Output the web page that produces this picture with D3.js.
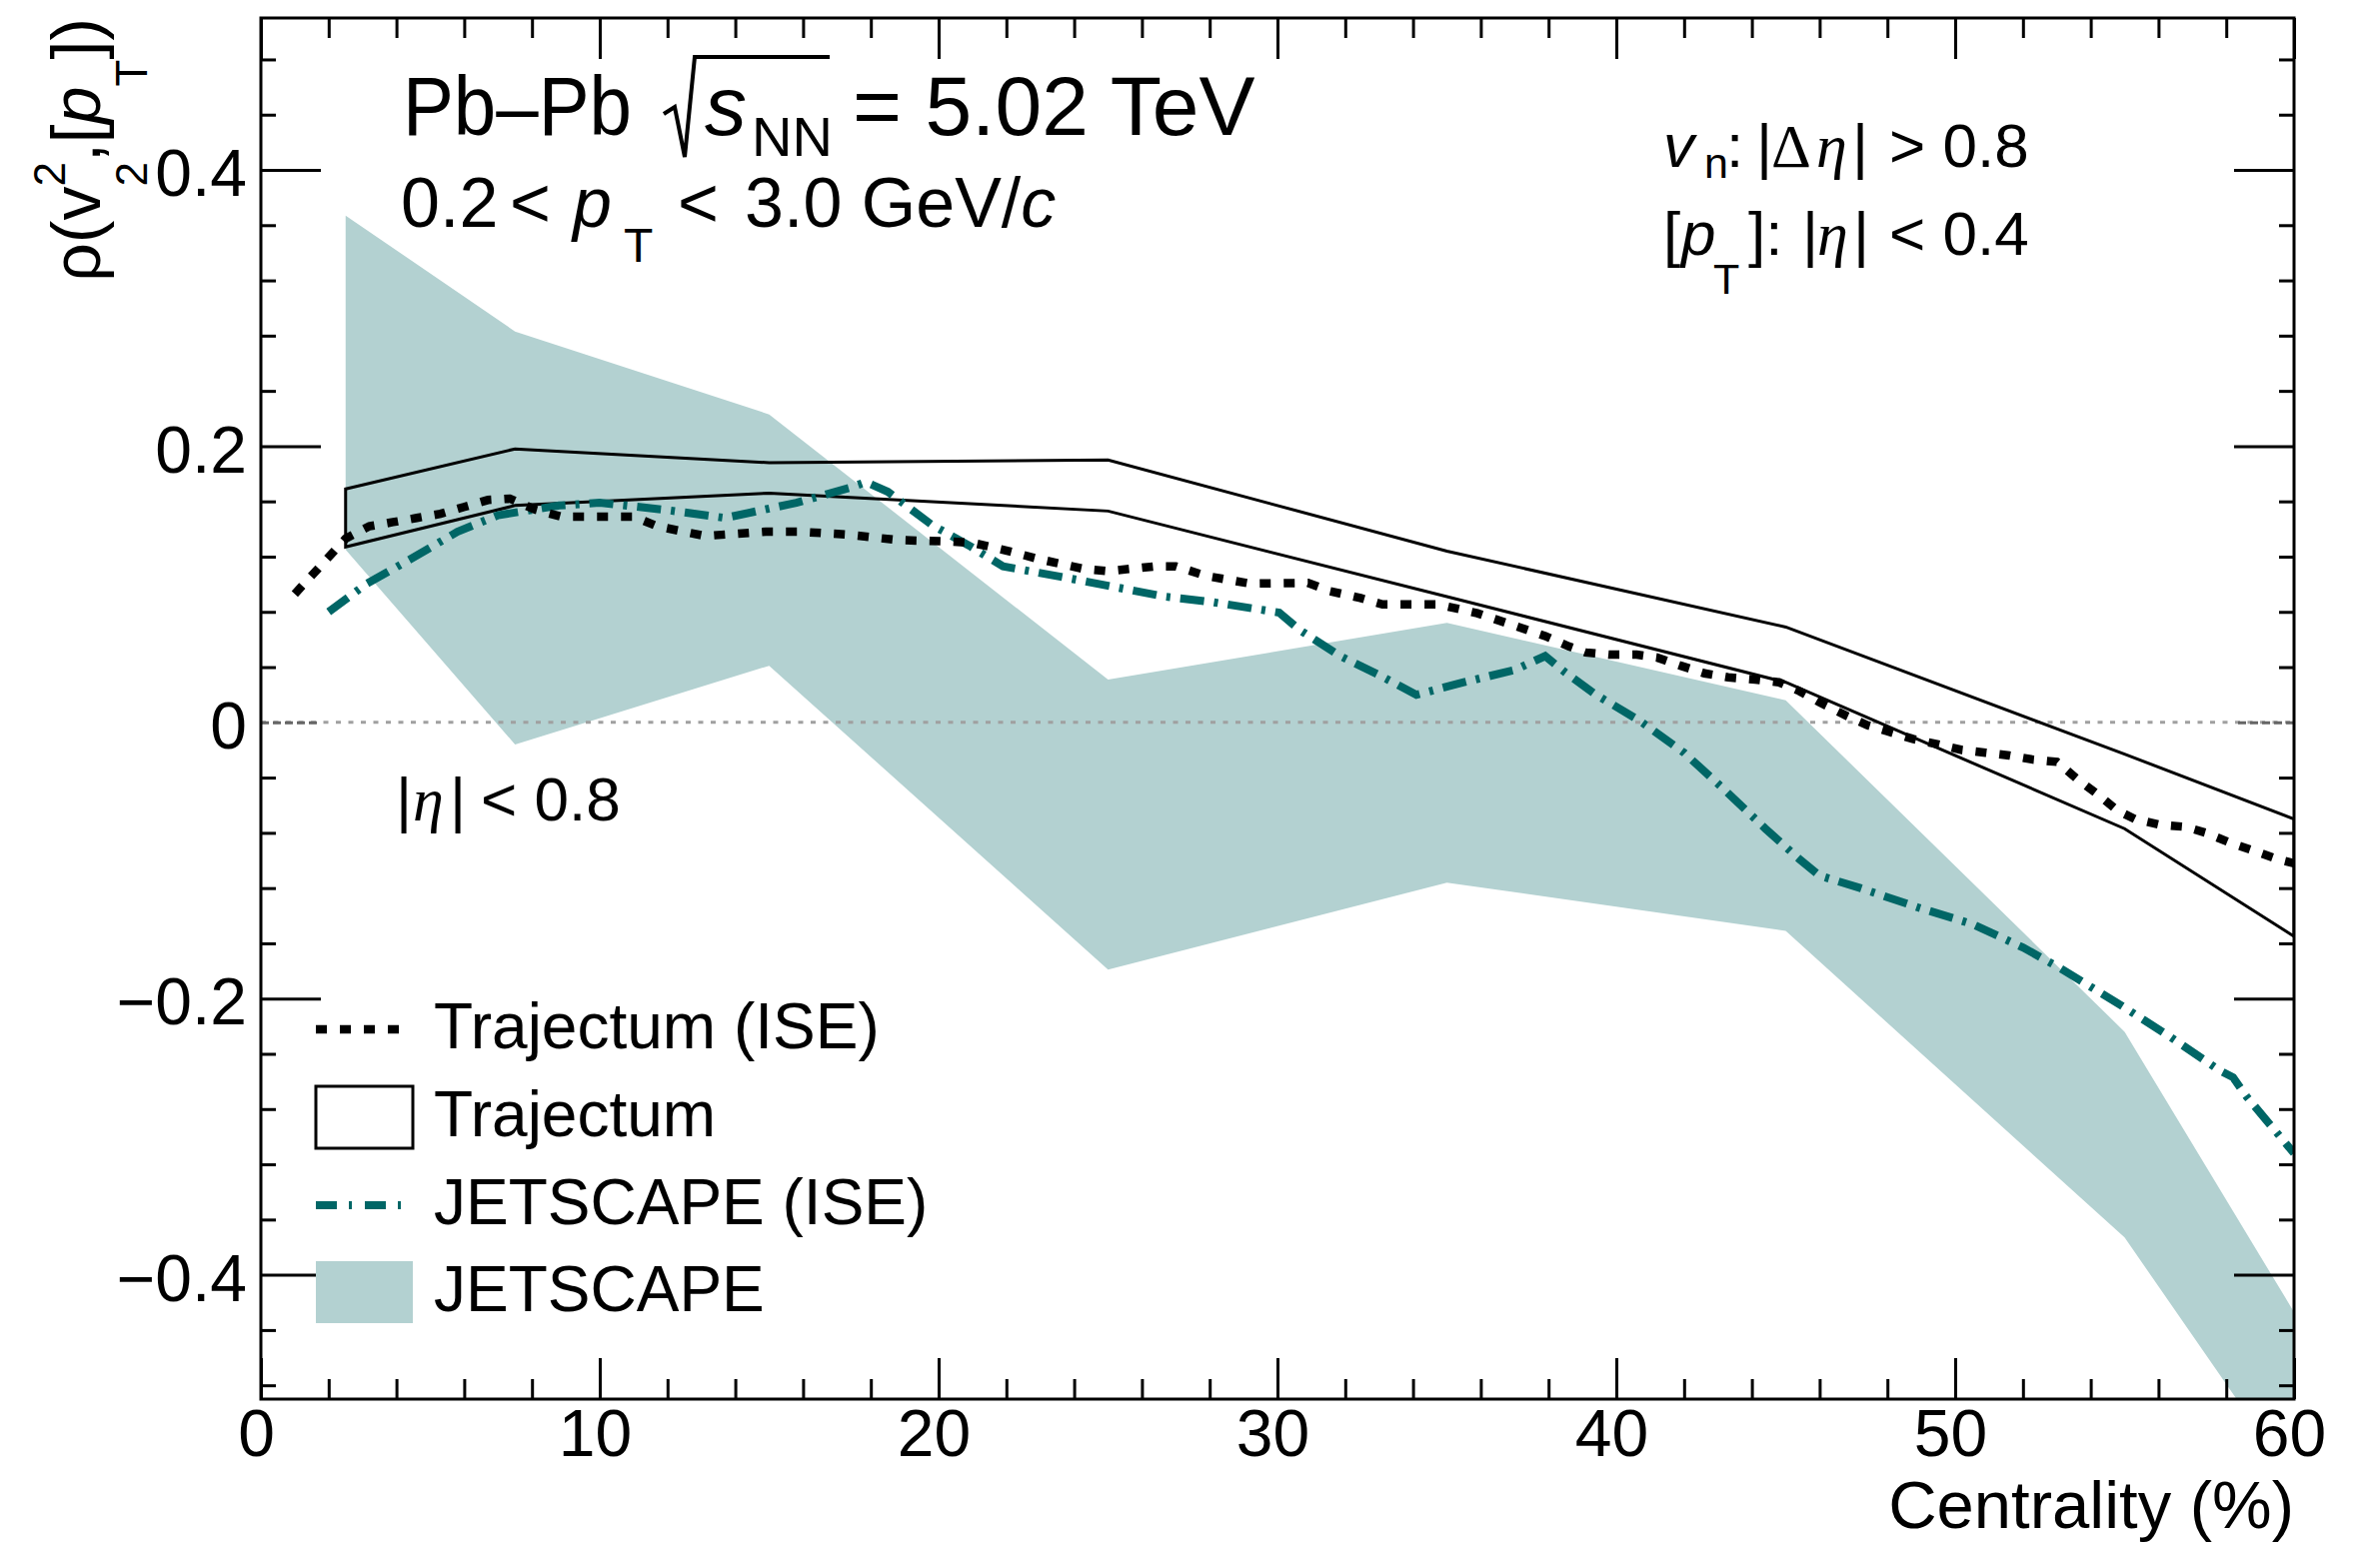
<!DOCTYPE html>
<html><head><meta charset="utf-8">
<script src="https://cdn.jsdelivr.net/npm/d3@7"></script>
<style>
body{margin:0;background:#fff}
svg{display:block}
text{font-family:"Liberation Sans",Arial,Helvetica,sans-serif;fill:#000}
</style>
</head><body>
<svg id="c" width="2381" height="1543"></svg>
<script>
// ---------------- data ----------------
const xMajorTicks = [0, 10, 20, 30, 40, 50, 60];
const xMinorTicks = [2,4,6,8,12,14,16,18,22,24,26,28,32,34,36,38,42,44,46,48,52,54,56,58];
const yMajorTicks = [-0.4, -0.2, 0, 0.2, 0.4];
const yMinorTicks = [-0.48,-0.44,-0.36,-0.32,-0.28,-0.24,-0.16,-0.12,-0.08,-0.04,0.04,0.08,0.12,0.16,0.24,0.28,0.32,0.36,0.44,0.48];

// Trajectum (ISE) - dotted black
const trajISE_x = [1.0,2.5,3.2,3.9,4.6,5.3,6.0,6.7,7.35,8.1,8.85,11.0,11.7,13.1,14.9,15.9,17.3,18.8,20.3,21.0,21.9,23.0,24.3,25.0,26.4,27.0,27.9,29.2,30.9,31.55,32.45,33.1,34.75,35.9,37.0,37.9,38.6,39.1,39.8,40.6,41.2,41.9,42.6,43.3,44.1,44.8,45.4,46.0,46.8,47.4,48.0,48.75,49.5,50.2,50.9,51.6,52.3,53.0,53.6,54.2,54.8,55.3,56.0,56.8,57.4,58.1,58.7,59.5,60.0];
const trajISE_y = [0.093,0.133,0.142,0.145,0.148,0.151,0.156,0.161,0.162,0.154,0.149,0.149,0.142,0.135,0.138,0.138,0.136,0.132,0.131,0.130,0.125,0.118,0.111,0.1095,0.113,0.113,0.106,0.1005,0.101,0.095,0.090,0.0854,0.0854,0.079,0.070,0.0625,0.055,0.0506,0.049,0.049,0.047,0.041,0.0355,0.0326,0.031,0.029,0.0227,0.0145,0.0047,-0.002,-0.0064,-0.012,-0.016,-0.020,-0.022,-0.024,-0.027,-0.0286,-0.041,-0.052,-0.064,-0.070,-0.074,-0.0757,-0.080,-0.087,-0.092,-0.099,-0.102];

// JETSCAPE (ISE) - teal dash-dot
const jsISE_x = [2.0,3.1,4.4,5.8,7.0,8.8,10.0,11.9,13.7,15.8,17.4,17.85,18.5,19.8,20.9,21.9,23.7,25.2,26.7,28.1,29.4,30.05,30.65,31.85,33.06,34.1,35.5,37.0,37.9,38.5,39.4,40.7,42.0,43.2,44.4,45.4,46.0,47.2,48.9,50.5,52.0,53.1,54.9,56.3,57.8,58.2,58.6,60.0];
const jsISE_y = [0.080,0.100,0.118,0.138,0.150,0.157,0.159,0.154,0.148,0.159,0.170,0.174,0.167,0.143,0.128,0.113,0.105,0.098,0.091,0.087,0.082,0.0795,0.067,0.048,0.0335,0.020,0.029,0.038,0.048,0.036,0.020,0.001,-0.022,-0.049,-0.077,-0.099,-0.111,-0.120,-0.134,-0.146,-0.163,-0.178,-0.205,-0.227,-0.252,-0.257,-0.271,-0.312];

// Trajectum - open band (outline)
const traj_x  = [2.5, 7.5, 15, 25, 35, 45, 55, 60];
const traj_hi = [0.169, 0.198, 0.188, 0.190, 0.124, 0.069, -0.023, -0.070];
const traj_lo = [0.127, 0.157, 0.166, 0.153, 0.091, 0.029, -0.077, -0.155];

// JETSCAPE - filled band
const js_x  = [2.5, 7.5, 15, 25, 35, 45, 55, 60];
const js_hi = [0.367, 0.283, 0.223, 0.031, 0.072, 0.016, -0.224, -0.427];
const js_lo = [0.125, -0.016, 0.041, -0.179, -0.116, -0.151, -0.373, -0.55];

const legendLabels = ["Trajectum (ISE)", "Trajectum", "JETSCAPE (ISE)", "JETSCAPE"];

// ---------------- layout ----------------
const L = 261, R = 2295, T = 18, B = 1400;
const BAND = "#b3d1d1", TEAL = "#006666";
const svg = d3.select("#c");
const x = d3.scaleLinear().domain([0, 60]).range([L, R]);
const y = d3.scaleLinear().domain([-0.49, 0.51]).range([B, T]);

svg.append("defs").append("clipPath").attr("id","plotclip")
  .append("rect").attr("x",L).attr("y",T).attr("width",R-L).attr("height",B-T);
const plot = svg.append("g").attr("clip-path","url(#plotclip)");

// JETSCAPE band
const bandPts = js_x.map((v,i)=>[v, js_hi[i], js_lo[i]]);
plot.append("path")
  .attr("d", d3.area().x(d=>x(d[0])).y0(d=>y(d[2])).y1(d=>y(d[1]))(bandPts))
  .attr("fill", BAND).attr("stroke","none");

// zero line
plot.append("line").attr("x1",x(0)).attr("x2",x(60)).attr("y1",y(0)).attr("y2",y(0))
  .attr("stroke","#a0a0a0").attr("stroke-width",3).attr("stroke-dasharray","5,7.5");

// Trajectum outline (closed polygon)
const polyPts = traj_x.map((v,i)=>[v,traj_hi[i]]).concat(traj_x.map((v,i)=>[v,traj_lo[i]]).reverse());
plot.append("path")
  .attr("d", d3.line().x(d=>x(d[0])).y(d=>y(d[1]))(polyPts) + "Z")
  .attr("fill","none").attr("stroke","#000").attr("stroke-width",3).attr("stroke-linejoin","miter");

// JETSCAPE (ISE)
plot.append("path")
  .attr("d", d3.line().x(d=>x(d[0])).y(d=>y(d[1]))(jsISE_x.map((v,i)=>[v,jsISE_y[i]])))
  .attr("fill","none").attr("stroke",TEAL).attr("stroke-width",8).attr("stroke-dasharray","24,10,4,10");

// Trajectum (ISE)
plot.append("path")
  .attr("d", d3.line().x(d=>x(d[0])).y(d=>y(d[1]))(trajISE_x.map((v,i)=>[v,trajISE_y[i]])))
  .attr("fill","none").attr("stroke","#000").attr("stroke-width",8.5).attr("stroke-dasharray","11,13");

// ---------------- axes ----------------
const fmt = v => v === 0 ? "0" : d3.format(".1f")(v);
function styleAxis(g){
  g.select(".domain").remove();
  g.selectAll(".tick line").attr("stroke","#000").attr("stroke-width",3);
  g.attr("font-family",null).attr("font-size",null);
  g.selectAll(".tick text").attr("font-size",66).attr("fill","#000");
}
// left
const gl = svg.append("g").attr("transform",`translate(${L},0)`)
  .call(d3.axisLeft(y).tickValues(yMajorTicks).tickSize(-60).tickPadding(14).tickFormat(fmt));
styleAxis(gl); gl.selectAll(".tick text").attr("dy","0.39em");
const glm = svg.append("g").attr("transform",`translate(${L},0)`)
  .call(d3.axisLeft(y).tickValues(yMinorTicks).tickSize(-15).tickFormat(""));
styleAxis(glm);
// right
const gr = svg.append("g").attr("transform",`translate(${R},0)`)
  .call(d3.axisRight(y).tickValues(yMajorTicks).tickSize(-60).tickFormat(""));
styleAxis(gr);
const grm = svg.append("g").attr("transform",`translate(${R},0)`)
  .call(d3.axisRight(y).tickValues(yMinorTicks).tickSize(-15).tickFormat(""));
styleAxis(grm);
// zero ticks drawn greyish like the reference
[gl, gr].forEach(g => g.selectAll(".tick").filter(d => d === 0).select("line")
  .attr("stroke","#666").attr("stroke-dasharray","8,4"));
// bottom
const gb = svg.append("g").attr("transform",`translate(0,${B})`)
  .call(d3.axisBottom(x).tickValues(xMajorTicks).tickSize(-41).tickPadding(10).tickFormat(d3.format("d")));
styleAxis(gb); gb.selectAll(".tick text").attr("dx",-5);
const gbm = svg.append("g").attr("transform",`translate(0,${B})`)
  .call(d3.axisBottom(x).tickValues(xMinorTicks).tickSize(-20).tickFormat(""));
styleAxis(gbm);
// top
const gt = svg.append("g").attr("transform",`translate(0,${T})`)
  .call(d3.axisTop(x).tickValues(xMajorTicks).tickSize(-41).tickFormat(""));
styleAxis(gt);
const gtm = svg.append("g").attr("transform",`translate(0,${T})`)
  .call(d3.axisTop(x).tickValues(xMinorTicks).tickSize(-20).tickFormat(""));
styleAxis(gtm);

// frame
svg.append("rect").attr("x",L).attr("y",T).attr("width",R-L).attr("height",B-T)
  .attr("fill","none").attr("stroke","#000").attr("stroke-width",3);

// axis titles
svg.append("text").attr("x",R).attr("y",1529).attr("text-anchor","end")
  .attr("font-size",67).text("Centrality (%)");

const yt = svg.append("text").attr("transform","translate(100,18) rotate(-90)")
  .attr("text-anchor","end").attr("font-size",68);
yt.append("tspan").text("ρ(v");
yt.append("tspan").attr("font-size",44).attr("dy",-35).text("2");
yt.append("tspan").attr("font-size",44).attr("dx",-24.5).attr("dy",82).text("2");
yt.append("tspan").attr("dy",-47).text(",[");
yt.append("tspan").attr("font-style","italic").text("p");
yt.append("tspan").attr("font-size",44).attr("dy",47).text("T");
yt.append("tspan").attr("dy",-47).text("])");

// ---------------- annotations ----------------
const t1 = svg.append("text").attr("y",135).attr("font-size",84);
t1.append("tspan").attr("x",403).attr("textLength",229).attr("lengthAdjust","spacingAndGlyphs").text("Pb–Pb");
t1.append("tspan").attr("x",705).attr("font-style","italic").text("s");
t1.append("tspan").attr("x",752).attr("y",156).attr("font-size",56).text("NN");
t1.append("tspan").attr("x",853).attr("y",135).text("= 5.02 TeV");
svg.append("path").attr("d","M664,114 L675,107 L685,157 L695,57 L830,57")
  .attr("fill","none").attr("stroke","#000").attr("stroke-width",4).attr("stroke-linejoin","miter");

const t2 = svg.append("text").attr("y",227).attr("font-size",70);
t2.append("tspan").attr("x",401).text("0.2");
t2.append("tspan").attr("x",510).text("<");
t2.append("tspan").attr("x",573).attr("font-style","italic").text("p");
t2.append("tspan").attr("x",624).attr("y",262).attr("font-size",48).text("T");
t2.append("tspan").attr("x",678).attr("y",227).text("<");
t2.append("tspan").attr("x",745).text("3.0 GeV/");
t2.append("tspan").attr("font-style","italic").text("c");

const SERIF = "'Liberation Serif','Times New Roman',serif";
const r1 = svg.append("text").attr("y",167).attr("font-size",62);
r1.append("tspan").attr("x",1664).attr("font-style","italic").text("v");
r1.append("tspan").attr("x",1705).attr("y",178).attr("font-size",43).text("n");
r1.append("tspan").attr("x",1727).attr("y",167).text(":");
r1.append("tspan").attr("x",1757).text("|");
r1.append("tspan").attr("x",1772).attr("font-family",SERIF).text("Δ");
r1.append("tspan").attr("x",1817).attr("font-family",SERIF).attr("font-style","italic").text("η");
r1.append("tspan").attr("x",1853).text("|");
r1.append("tspan").attr("x",1890).text("> 0.8");

const r2 = svg.append("text").attr("y",255).attr("font-size",62);
r2.append("tspan").attr("x",1664).text("[");
r2.append("tspan").attr("x",1682).attr("font-style","italic").text("p");
r2.append("tspan").attr("x",1714).attr("y",294).attr("font-size",43).text("T");
r2.append("tspan").attr("x",1749).attr("y",255).text("]:");
r2.append("tspan").attr("x",1803).text("|");
r2.append("tspan").attr("x",1818).attr("font-family",SERIF).attr("font-style","italic").text("η");
r2.append("tspan").attr("x",1854).text("|");
r2.append("tspan").attr("x",1890).text("< 0.4");

const e1 = svg.append("text").attr("y",821).attr("font-size",62);
e1.append("tspan").attr("x",396).text("|");
e1.append("tspan").attr("x",413).attr("font-family",SERIF).attr("font-style","italic").text("η");
e1.append("tspan").attr("x",450).text("|");
e1.append("tspan").attr("x",481).text("< 0.8");

// ---------------- legend ----------------
const lg = svg.append("g");
const rowY = [1030, 1118, 1206, 1293];
const baseY = [1049, 1137, 1225, 1312];
const symX0 = 316, symX1 = 413;
lg.append("line").attr("x1",symX0).attr("x2",symX1-11).attr("y1",rowY[0]).attr("y2",rowY[0])
  .attr("stroke","#000").attr("stroke-width",8.5).attr("stroke-dasharray","11,13");
lg.append("rect").attr("x",symX0).attr("y",1087).attr("width",symX1-symX0).attr("height",62)
  .attr("fill","none").attr("stroke","#000").attr("stroke-width",3);
lg.append("line").attr("x1",symX0).attr("x2",symX1-10).attr("y1",rowY[2]).attr("y2",rowY[2])
  .attr("stroke",TEAL).attr("stroke-width",8).attr("stroke-dasharray","21,12,3,13");
lg.append("rect").attr("x",symX0).attr("y",1262).attr("width",symX1-symX0).attr("height",62)
  .attr("fill",BAND);
legendLabels.forEach((s,i)=>{
  lg.append("text").attr("x",434).attr("y",baseY[i]).attr("font-size",64).text(s);
});
</script>
</body></html>
